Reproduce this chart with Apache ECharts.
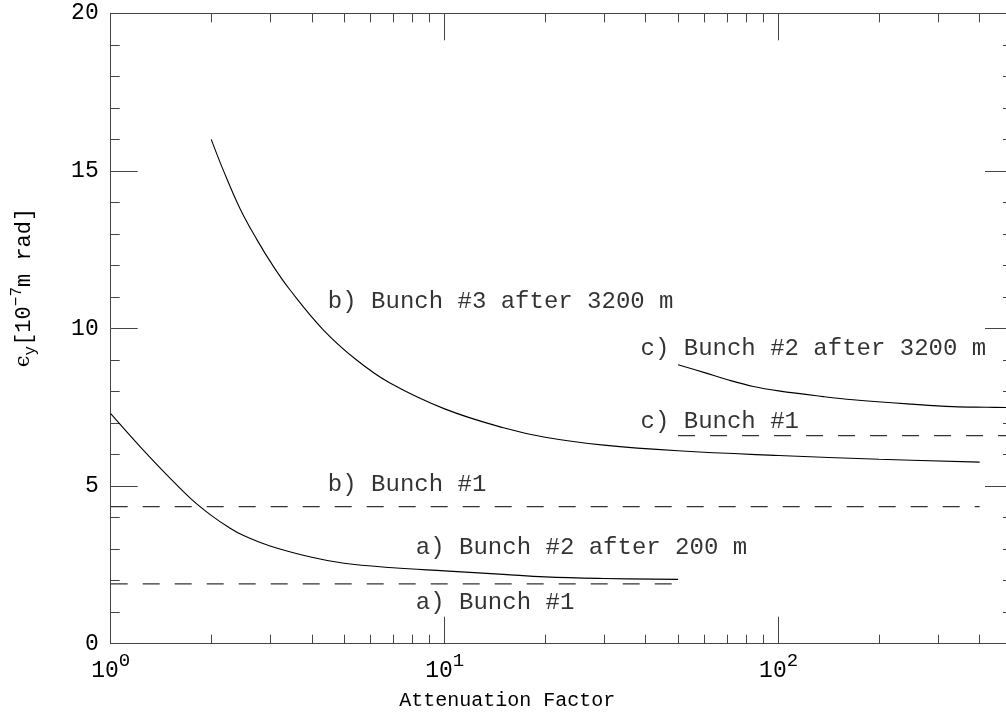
<!DOCTYPE html>
<html>
<head>
  <meta charset="UTF-8">
  <title>Emittance vs attenuation</title>
  <script src="https://cdn.jsdelivr.net/npm/echarts@6/dist/echarts.min.js"></script>
  <style type="text/css">
  html, body { margin: 0; padding: 0; background: #ffffff; }
  </style>
</head>
<body>
  <div id="chart" style="width:1006px; height:713px;"></div>

  <script>
    // a) Bunch #2 after 200 m
    var aX = [1, 1.25, 1.5, 1.75, 2, 2.25, 2.5, 3, 4, 5, 7, 10, 15, 20, 30, 50]
    var aY = [7.3, 6.15, 5.27, 4.57, 4.07, 3.7, 3.43, 3.1, 2.74, 2.55, 2.41, 2.31, 2.2, 2.12, 2.07, 2.04]
    // b) Bunch #3 after 3200 m
    var bX = [2, 2.17, 2.44, 2.74, 3.07, 3.44, 4.33, 5.45, 6.86, 10, 15, 20, 30, 50, 100, 200, 400]
    var bY = [16.0, 15.04, 13.8, 12.82, 11.97, 11.23, 9.96, 9.0, 8.27, 7.45, 6.85, 6.55, 6.3, 6.12, 5.97, 5.85, 5.76]
    // c) Bunch #2 after 3200 m
    var cX = [50, 60, 70, 84, 100, 136, 167, 250, 333, 420, 500]
    var cY = [8.85, 8.6, 8.38, 8.16, 8.02, 7.84, 7.74, 7.6, 7.52, 7.5, 7.49]
    // reference lines for bunch #1 (dashed)
    var a1X = [1, 50], a1Y = [1.9, 1.9]
    var b1X = [1, 400], b1Y = [4.35, 4.35]
    var c1X = [50, 500], c1Y = [6.6, 6.6]

    var labelText = ['b) Bunch #3 after 3200 m', 'c) Bunch #2 after 3200 m', 'c) Bunch #1',
                     'b) Bunch #1', 'a) Bunch #2 after 200 m', 'a) Bunch #1']
    var labelX = [4.47, 38.6, 38.6, 4.47, 8.2, 8.2]
    var labelY = [10.86, 9.36, 7.05, 5.04, 3.04, 1.29]

    var xMajor = [1, 10, 100]
    var xMinor = [2, 3, 4, 5, 6, 7, 8, 9, 20, 30, 40, 50, 60, 70, 80, 90, 200, 300, 400, 500]

    var FONT = '"Liberation Mono", monospace'
    var INK = '#000'
    var FRAME = '#444'

    function pairs(xs, ys) {
      return xs.map(function (x, i) { return [x, ys[i]] })
    }

    function logAxis(pos, ticks, len, withLabels) {
      var ax = {
        type: 'log', logBase: 10, min: 1, max: 500, position: pos,
        splitLine: {show: false},
        axisLine: {show: true, lineStyle: {color: FRAME, width: 1}},
        axisTick: {show: true, inside: true, length: len, customValues: ticks,
                   lineStyle: {color: FRAME, width: 1}},
        axisLabel: {show: false}
      }
      if (withLabels) {
        ax.axisLabel = {
          show: true, customValues: xMajor, margin: 8,
          formatter: function (v) {
            return '{b|10}{s|' + Math.round(Math.log10(v)) + '}'
          },
          rich: {
            b: {fontFamily: FONT, fontSize: 23, color: INK, lineHeight: 31, verticalAlign: 'bottom'},
            s: {fontFamily: FONT, fontSize: 19, color: INK, lineHeight: 22, verticalAlign: 'top'}
          }
        }
        ax.name = 'Attenuation Factor'
        ax.nameLocation = 'middle'
        ax.nameGap = 47
        ax.nameTextStyle = {fontFamily: FONT, fontSize: 20, color: INK, padding: [0, 108, 0, 0]}
      }
      return ax
    }

    function valAxis(pos, withLabels) {
      var ax = {
        type: 'value', min: 0, max: 20, interval: 5, position: pos,
        splitLine: {show: false},
        axisLine: {show: true, lineStyle: {color: FRAME, width: 1}},
        axisTick: {show: true, inside: true, length: 27, lineStyle: {color: FRAME, width: 1}},
        minorTick: {show: true, splitNumber: 5, length: 9, lineStyle: {color: FRAME, width: 1}},
        axisLabel: {show: withLabels, margin: 12, fontFamily: FONT, fontSize: 23, color: INK}
      }
      if (withLabels) {
        ax.name = '{e|ϵ}{sub|y}{n|[10}{sup|−7}{n|m rad]}'
        ax.nameLocation = 'middle'
        ax.nameRotate = 90
        ax.nameGap = 72
        ax.nameTextStyle = {
          padding: [0, 0, 0, 82],
          rich: {
            e: {fontFamily: 'DejaVu Serif', fontSize: 21, color: INK, lineHeight: 30},
            n: {fontFamily: FONT, fontSize: 22, color: INK, lineHeight: 30},
            sub: {fontFamily: FONT, fontSize: 16, color: INK, lineHeight: 16, verticalAlign: 'bottom'},
            sup: {fontFamily: FONT, fontSize: 16, color: INK, lineHeight: 16, verticalAlign: 'top'}
          }
        }
      }
      return ax
    }

    function curve(xs, ys, dashed) {
      return {
        type: 'line', xAxisIndex: 0, yAxisIndex: 0,
        data: pairs(xs, ys), showSymbol: false, symbol: 'none',
        smooth: dashed ? false : 0.4,
        lineStyle: dashed
          ? {color: '#333', width: 1.2, type: [17, 15]}
          : {color: INK, width: 1.1},
        silent: true
      }
    }

    var chart = echarts.init(document.getElementById('chart'), null, {renderer: 'canvas'})
    chart.setOption({
      animation: false,
      backgroundColor: '#ffffff',
      grid: {left: 110.7, right: -6, top: 13.3, bottom: 69.3, containLabel: false, outerBoundsMode: 'none'},
      xAxis: [
        logAxis('bottom', xMajor, 27, true),
        logAxis('bottom', xMinor, 9, false),
        logAxis('top', xMajor, 27, false),
        logAxis('top', xMinor, 9, false)
      ],
      yAxis: [valAxis('left', true), valAxis('right', false)],
      series: [
        curve(aX, aY, false),
        curve(bX, bY, false),
        curve(cX, cY, false),
        curve(a1X, a1Y, true),
        curve(b1X, b1Y, true),
        curve(c1X, c1Y, true),
        {
          type: 'scatter', xAxisIndex: 0, yAxisIndex: 0, symbolSize: 0, silent: true,
          data: labelText.map(function (t, i) { return {name: t, value: [labelX[i], labelY[i]]} }),
          label: {show: true, position: 'right', distance: 0, formatter: '{b}',
                  fontFamily: FONT, fontSize: 24, color: INK}
        }
      ]
    })
  </script>
</body>
</html>
